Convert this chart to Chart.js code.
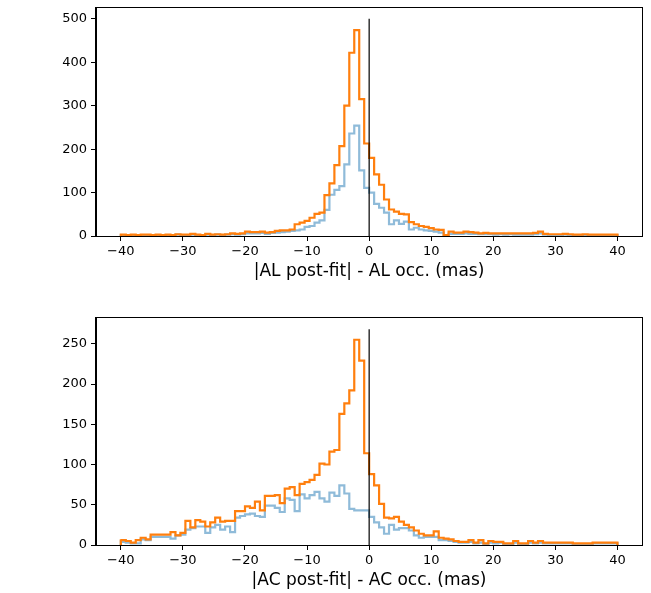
<!DOCTYPE html>
<html><head><meta charset="utf-8">
<script src="https://cdn.jsdelivr.net/npm/chart.js@4.4.0/dist/chart.umd.min.js"></script>
<style>
html,body{margin:0;padding:0;background:#fff;}
#wrap{position:relative;width:651px;height:593px;}
.box{position:absolute;left:0;width:651px;}
</style></head><body>
<div id="wrap">
<div class="box" style="top:0;height:300px"><canvas id="c1"></canvas></div>
<div class="box" style="top:300px;height:293px"><canvas id="c2"></canvas></div>
</div>
<script>
// Histogram binning: 100 bins over [-40, 40]
const BIN_START = -40;
const BIN_END = 40;
const BIN_COUNT = 100;

// Top panel: |AL post-fit| - AL occ. (mas)
const alBlue = [1,2,1,2,1,2,2,1,2,1, 2,1,3,2,2,3,2,1,3,2, 3,2,3,4,3,4,6,6,6,7,
  5,7,8,9,10,12,13,15,21,23, 31,36,60,95,106,115,165,236,254,151,
  111,100,74,65,54,27,36,28,33,15, 19,15,13,12,10,8,1,5,5,5,
  6,5,5,4,4,4,3,4,3,4, 3,3,3,3,4,6,3,2,2,2, 3,2,2,2,2,2,1,2,1,2];
const alOrange = [2,3,2,3,2,3,3,2,3,2, 3,2,4,3,3,5,3,2,5,3, 4,3,4,6,5,6,10,9,9,10,
  8,9,12,13,13,15,27,31,35,42, 51,54,94,121,163,207,300,422,474,315,
  213,180,142,118,84,61,56,51,50,32, 27,23,21,18,15,14,2,10,8,8,
  10,9,8,6,7,6,6,6,6,6, 6,6,6,6,7,10,5,4,4,4, 5,4,3,3,4,3,3,3,3,3];

// Bottom panel: |AC post-fit| - AC occ. (mas)
const acBlue = [6,4,3,2,2,7,6,10,10,10, 10,8,12,13,19,21,23,23,15,22, 25,19,23,16,34,36,38,39,36,35,
  49,49,46,41,58,56,42,63,58,62, 66,58,54,65,61,74,64,45,43,43,
  43,35,28,22,14,25,19,21,21,18, 12,9,10,10,10,6,6,5,4,3,
  3,4,2,3,1,3,2,3,1,1, 3,1,1,3,2,3,2,2,2,2, 2,2,1,1,1,1,2,2,2,2];
const acOrange = [7,6,5,3,6,9,7,13,13,13, 13,16,12,15,30,22,31,29,23,28, 34,29,30,30,42,42,48,46,54,43,
  61,61,62,52,70,72,62,76,78,81, 87,101,100,116,118,163,176,192,255,229,
  114,88,74,51,34,33,35,29,25,22, 18,14,12,12,17,9,8,7,5,4,
  4,6,3,6,2,5,4,4,2,2, 5,2,2,5,3,5,3,3,3,3, 3,3,2,2,2,2,3,3,3,3];

// Axes
const xTicks = [-40,-30,-20,-10,0,10,20,30,40];
const yTicksTop = [0,100,200,300,400,500];
const yTicksBottom = [0,50,100,150,200,250];
const xLimits = [-44, 43.95];
const yMaxTop = 525, yMaxBottom = 282;
const vlineTop = 500, vlineBottom = 268;
const xLabelTop = '|AL post-fit| - AL occ. (mas)';
const xLabelBottom = '|AC post-fit| - AC occ. (mas)';

const binWidth = (BIN_END - BIN_START) / BIN_COUNT;
const binEdges = [];
for (let i = 0; i <= BIN_COUNT; i++) binEdges.push(BIN_START + i * binWidth);

function stepPoints(counts) {
  const pts = [{x: binEdges[0], y: 0}];
  counts.forEach((c, i) => pts.push({x: binEdges[i], y: c}));
  pts.push({x: binEdges[BIN_COUNT], y: counts[counts.length - 1]});
  pts.push({x: binEdges[BIN_COUNT], y: 0});
  return pts;
}
const fmt = v => v < 0 ? '\u2212' + Math.abs(v) : String(v);

const framePlugin = {
  id: 'frame',
  afterDatasetsDraw(chart) {
    const {ctx, chartArea: a} = chart;
    ctx.save();
    ctx.strokeStyle = '#000';
    ctx.lineWidth = 1;
    ctx.strokeRect(Math.round(a.left) - 0.5, Math.round(a.top) - 0.5,
      Math.round(a.right - a.left) + 1, Math.round(a.bottom - a.top) + 1);
    ctx.restore();
  }
};

function makeChart(id, blue, orange, yTicks, yMax, vline, label, pad) {
  const font = {family: 'DejaVu Sans', size: 13};
  return new Chart(document.getElementById(id), {
    type: 'line',
    data: {
      datasets: [
        {data: [{x: 0, y: 0}, {x: 0, y: vline}], borderColor: '#000', borderWidth: 1.2, pointRadius: 0, order: 0, clip: 0},
        {data: stepPoints(orange), borderColor: '#ff7f0e', borderWidth: 2.2, stepped: 'after', pointRadius: 0, order: 1, clip: 0},
        {data: stepPoints(blue), borderColor: 'rgba(31,119,180,0.5)', borderWidth: 2.2, stepped: 'after', pointRadius: 0, order: 2, clip: 0}
      ]
    },
    options: {
      responsive: true, maintainAspectRatio: false, animation: false, devicePixelRatio: 1,
      layout: {padding: pad},
      plugins: {legend: {display: false}, tooltip: {enabled: false}},
      scales: {
        x: {
          type: 'linear', min: xLimits[0], max: xLimits[1],
          afterBuildTicks: ax => { ax.ticks = xTicks.map(v => ({value: v})); },
          afterFit: ax => { ax.height = 46; ax.paddingLeft = 0; ax.paddingRight = 0; },
          grid: {drawOnChartArea: false, drawTicks: true, tickLength: 5, tickColor: '#000', tickWidth: 1},
          border: {display: true, color: '#000', width: 1},
          ticks: {color: '#000', font, padding: 3, maxRotation: 0, autoSkip: false, callback: fmt},
          title: {display: true, text: label, color: '#000', font: {family: 'DejaVu Sans', size: 17}, padding: {top: 0, bottom: 0}}
        },
        y: {
          type: 'linear', min: 0, max: yMax,
          afterBuildTicks: ax => { ax.ticks = yTicks.map(v => ({value: v})); },
          afterFit: ax => { ax.width = 96; ax.paddingTop = 0; ax.paddingBottom = 0; },
          grid: {drawOnChartArea: false, drawTicks: true, tickLength: 5, tickColor: '#000', tickWidth: 1},
          border: {display: true, color: '#000', width: 1},
          ticks: {color: '#000', font, padding: 4, autoSkip: false, callback: fmt}
        }
      }
    },
    plugins: [framePlugin]
  });
}

makeChart('c1', alBlue, alOrange, yTicksTop, yMaxTop, vlineTop, xLabelTop, {top: 8, right: 9, bottom: 18, left: 0});
makeChart('c2', acBlue, acOrange, yTicksBottom, yMaxBottom, vlineBottom, xLabelBottom, {top: 18, right: 9, bottom: 2, left: 0});
</script>
</body></html>
